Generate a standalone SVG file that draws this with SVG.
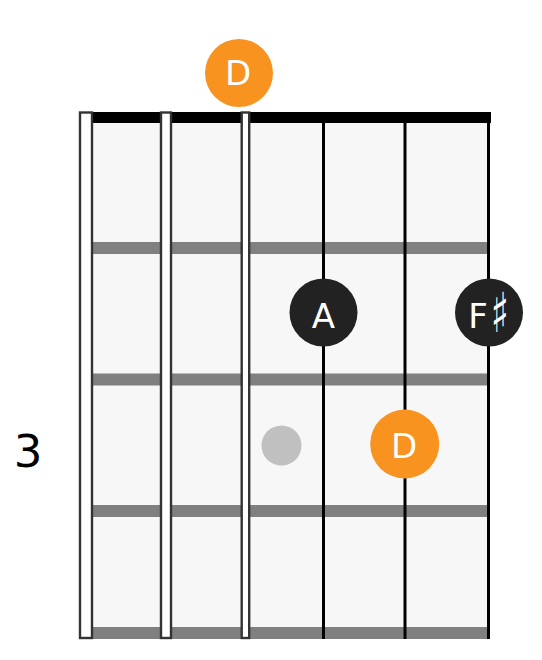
<svg xmlns="http://www.w3.org/2000/svg" width="542" height="660" viewBox="0 0 542 660">
<style>
.board{fill:#f7f7f7}
.fret{fill:#808080}
.wound{fill:#ffffff;stroke:#333333;stroke-width:2.4}
.plain{stroke:#000000;stroke-width:3}
.root{fill:#f7931e}
.note{fill:#222222}
.lbl{font-family:"DejaVu Sans","Liberation Sans",sans-serif;font-size:34px;fill:#ffffff;text-anchor:middle}
.fretnum{font-family:"DejaVu Sans","Liberation Sans",sans-serif;font-size:45px;fill:#000000;text-anchor:middle}
</style>
<rect width="542" height="660" fill="#ffffff"/>
<g id="fretboard">
<rect class="board" x="92" y="123" width="397" height="516"/>
<rect id="nut" x="92" y="112" width="399" height="11" fill="#000000"/>
<rect class="fret" x="92" y="242" width="397" height="12"/>
<rect class="fret" x="92" y="373.5" width="397" height="12"/>
<rect class="fret" x="92" y="505" width="397" height="12"/>
<rect class="fret" x="92" y="627" width="397" height="12"/>
</g>
<g id="strings">
<rect class="wound" x="80" y="112.5" width="12" height="525.5"/>
<rect class="wound" x="161" y="112.5" width="10" height="525.5"/>
<rect class="wound" x="241.7" y="112.5" width="7.5" height="525.5"/>
<line class="plain" x1="323.5" y1="112" x2="323.5" y2="639"/>
<line class="plain" x1="405" y1="112" x2="405" y2="639"/>
<line class="plain" x1="488.5" y1="112" x2="488.5" y2="639"/>
</g>
<g id="fret-number">
<text class="fretnum" x="28" y="467">3</text>
</g>
<g id="inlay">
<circle cx="281.5" cy="445.5" r="20" fill="#c0c0c0"/>
</g>
<g id="note-D-open">
<circle class="root" cx="239" cy="73" r="34"/>
<text class="lbl" x="238" y="85">D</text>
</g>
<g id="note-A">
<circle class="note" cx="323.5" cy="312.5" r="34"/>
<text class="lbl" x="323.5" y="328">A</text>
</g>
<g id="note-Fsharp">
<circle class="note" cx="489" cy="312.5" r="34"/>
<text class="lbl" x="478" y="328">F</text>
<text class="lbl" transform="translate(500,316.5) scale(1,1.45)" x="0" y="11" style="font-size:38px">♯</text>
</g>
<g id="note-D-fret3">
<circle class="root" cx="404.7" cy="444" r="34.5"/>
<text class="lbl" x="404" y="458">D</text>
</g>
</svg>
